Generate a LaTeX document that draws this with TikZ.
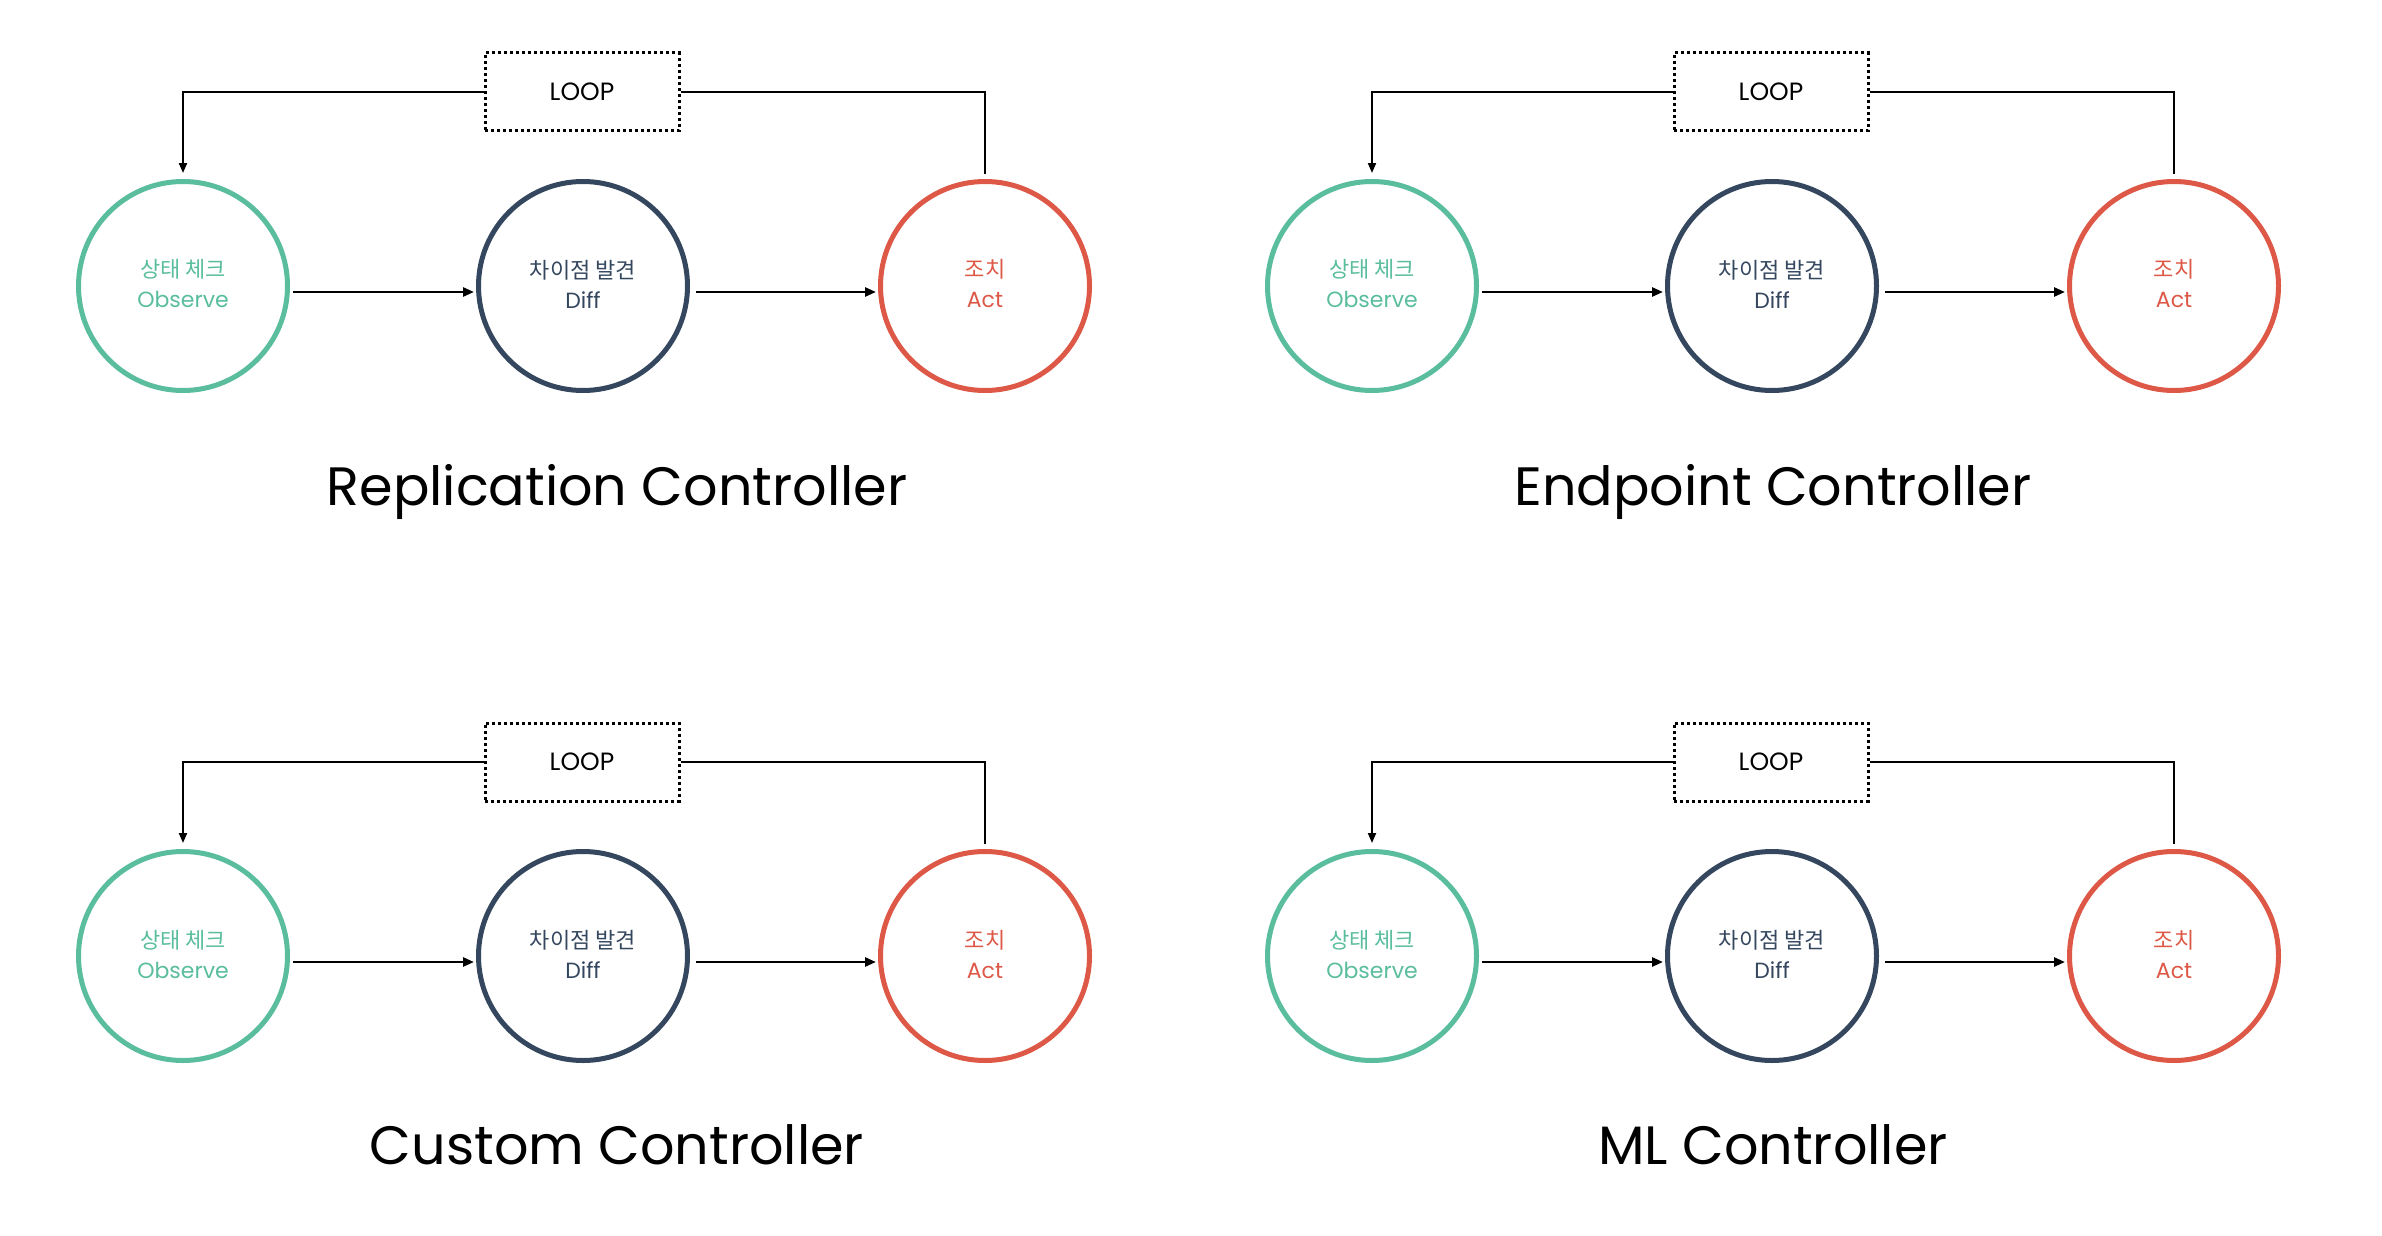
\documentclass[tikz,border=0pt]{standalone}
\usepackage{fontspec}
\setmainfont{Poppins}
\newfontfamily\kofont{Noto Sans CJK KR}
\usetikzlibrary{calc,arrows.meta}
\definecolor{obsgreen}{RGB}{90,189,158}
\definecolor{diffnavy}{RGB}{52,71,94}
\definecolor{actred}{RGB}{221,88,70}
\tikzset{
  stagecircle/.style={circle, draw=#1, line width=5pt, minimum size=209pt, inner sep=0pt,
    text=#1, align=center, font=\fontsize{22}{30}\selectfont},
  flowarrow/.style={line width=2.6pt, -{Triangle[length=11pt,width=9pt]}},
  loopline/.style={line width=2pt},
  looparrow/.style={line width=2pt, -{Triangle[length=10pt,width=8pt]}},
  loopbox/.style={draw, line width=3pt, dash pattern=on 3pt off 3pt, minimum width=194pt,
    minimum height=78pt, inner sep=0pt, font=\fontsize{25}{25}\selectfont},
  titletext/.style={font=\fontsize{54}{54}\selectfont, anchor=base, inner sep=0pt},
  stagetext/.style={text=#1, align=center, inner sep=0pt, font=\fontsize{22}{30}\selectfont},
}
\newcommand\ctrlquad[6]{%
\begin{scope}[shift={(#2,#3)}]
  \node[stagecircle=obsgreen] (#1obs) at (183,286) {};
  \node[stagecircle=diffnavy] (#1diff) at (583,286) {};
  \node[stagecircle=actred] (#1act) at (985,286) {};
  \node[stagetext=obsgreen] (#1obst) at (183,284) {{\kofont 상태 체크}\\Observe};
  \node[stagetext=diffnavy] (#1difft) at (583,284) {{\kofont 차이점 발견}\\Diff};
  \node[stagetext=actred] (#1actt) at (985,284) {{\kofont 조치}\\Act};
  \node[loopbox] (#1loop) at (582,92) {LOOP};
  \draw[flowarrow] ($(#1obs.east)+(3,6)$) -- ($(#1diff.west)+(-2,6)$);
  \draw[flowarrow] ($(#1diff.east)+(6,6)$) -- ($(#1act.west)+(-2,6)$);
  \draw[looparrow] (#1loop.west) -| ($(#1obs.north)+(0,-6)$);
  \draw[loopline] (#1loop.east) -| ($(#1act.north)+(0,-5)$);
  \node[titletext] (#1title) at (#4,#5) {#6};
\end{scope}}
\begin{document}
\begin{tikzpicture}[x=1pt,y=-1pt]
  \fill[white] (0,0) rectangle (2382,1236);
  \useasboundingbox (0,0) rectangle (2382,1236);
  \ctrlquad{rc}{0}{0}{617}{505}{Replication Controller}
  \ctrlquad{ep}{1189}{0}{584}{505}{Endpoint Controller}
  \ctrlquad{cu}{0}{670}{617}{494}{Custom Controller}
  \ctrlquad{ml}{1189}{670}{584}{494}{ML Controller}
\end{tikzpicture}
\end{document}
